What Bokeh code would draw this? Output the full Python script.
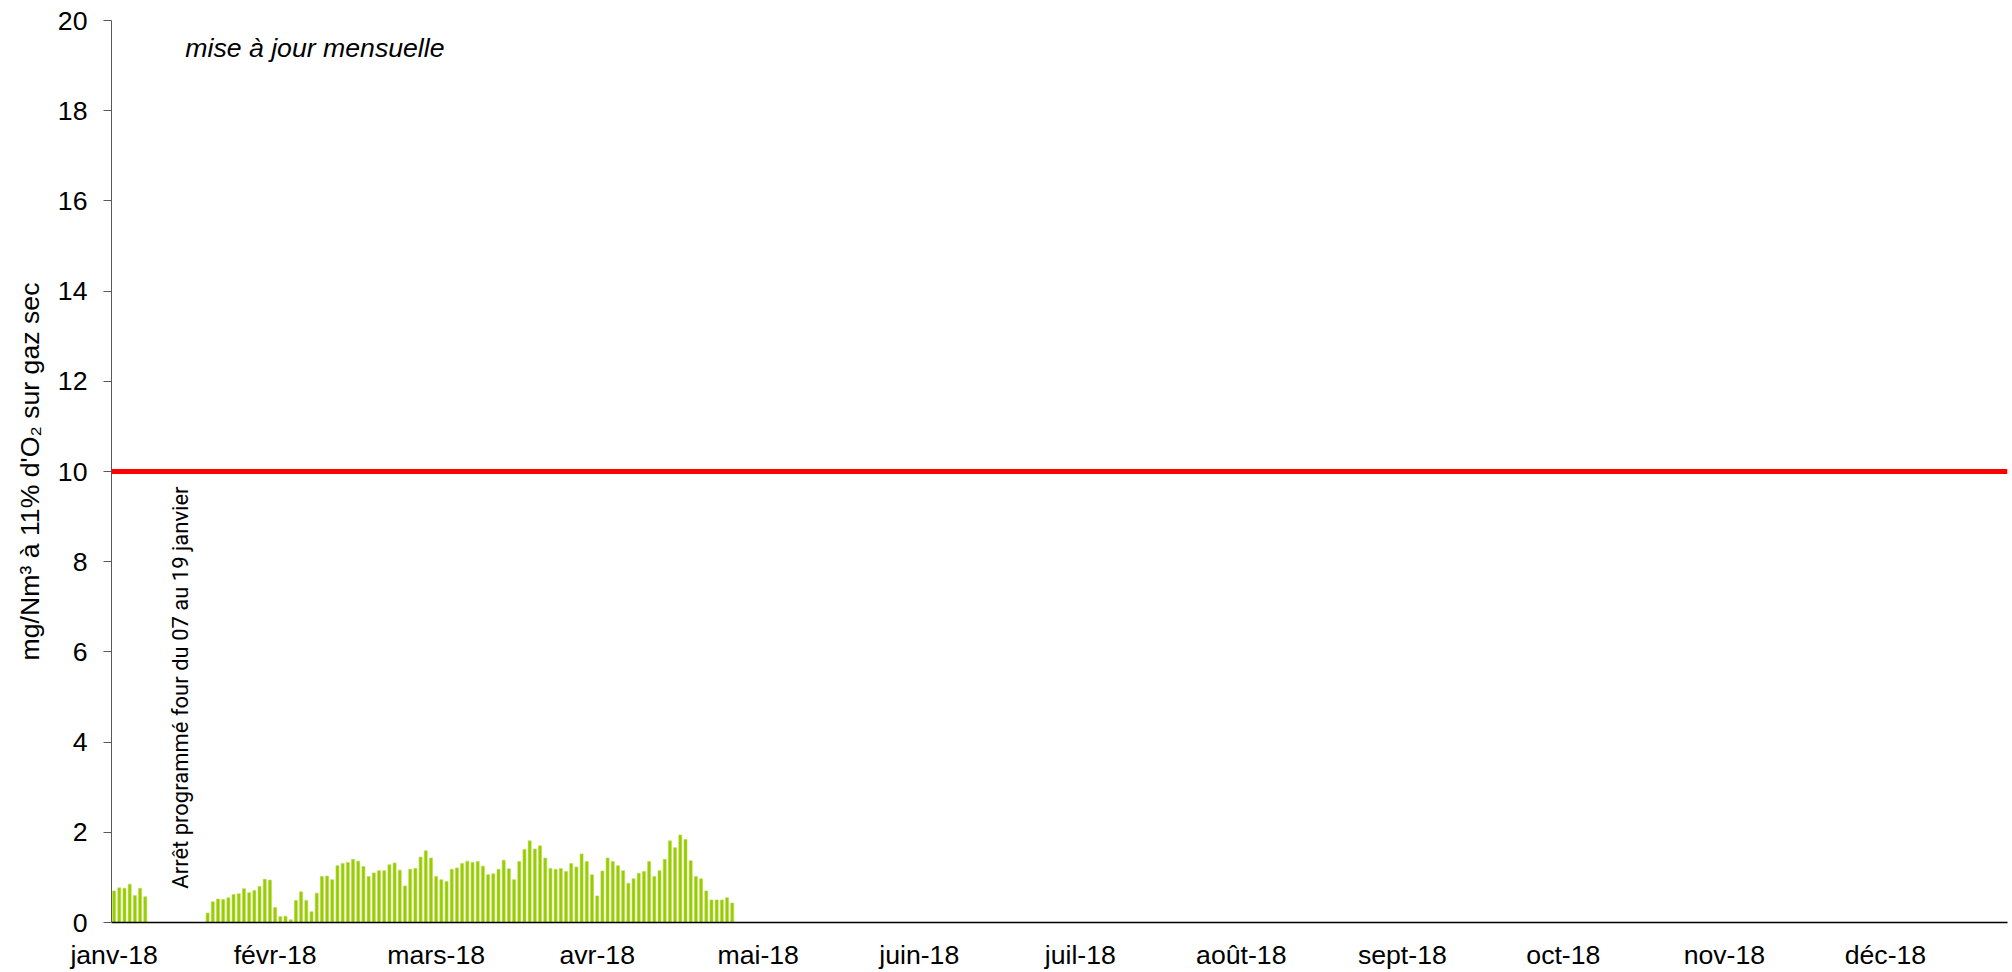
import pandas as pd
from bokeh.plotting import figure
from bokeh.models import Range1d, FixedTicker, Span, Label, ColumnDataSource
from bokeh.embed import file_html
from bokeh.resources import INLINE

# ---- data ----
year_start = "2018-01-01"
n_days = 365
label_every = 31
month_labels = ["janv-18", "févr-18", "mars-18", "avr-18", "mai-18", "juin-18",
                "juil-18", "août-18", "sept-18", "oct-18", "nov-18", "déc-18"]

start_1 = "2018-01-01"
values_1 = [0.70, 0.77, 0.76, 0.85, 0.60, 0.76, 0.57]

start_2 = "2018-01-19"
values_2 = [0.21, 0.46, 0.52, 0.51, 0.55, 0.62, 0.64, 0.75, 0.66, 0.71,
            0.80, 0.96, 0.94, 0.33, 0.13, 0.14, 0.06, 0.49, 0.68, 0.49,
            0.24, 0.65, 1.02, 1.03, 0.95, 1.26, 1.31, 1.33, 1.40, 1.36,
            1.24, 1.02, 1.10, 1.15, 1.15, 1.28, 1.32, 1.16, 0.81, 1.18,
            1.20, 1.45, 1.59, 1.43, 1.02, 0.95, 0.91, 1.18, 1.21, 1.31,
            1.36, 1.33, 1.35, 1.25, 1.06, 1.08, 1.18, 1.38, 1.19, 0.95,
            1.35, 1.62, 1.81, 1.63, 1.70, 1.43, 1.20, 1.18, 1.20, 1.13,
            1.31, 1.23, 1.52, 1.35, 1.06, 0.59, 1.14, 1.43, 1.35, 1.26,
            1.15, 0.87, 0.97, 1.09, 1.13, 1.35, 1.02, 1.15, 1.40, 1.81,
            1.66, 1.94, 1.84, 1.37, 1.02, 0.97, 0.70, 0.50, 0.50, 0.50,
            0.55, 0.43]

limit_value = 10
y_ticks = [0, 2, 4, 6, 8, 10, 12, 14, 16, 18, 20]

y_title = "mg/Nm³ à 11% d'O₂ sur gaz sec"
note_text = "mise à jour mensuelle"
stop_text = "Arrêt programmé four du 07 au 19 janvier"
stop_date = "2018-01-15"

FONT = "Liberation Sans"
FS = "26.67px"

# ---- build ----
t0 = pd.Timestamp(year_start)
def day_index(start, n):
    return [(d - t0).days for d in pd.date_range(start, periods=n, freq="D")]

xs = day_index(start_1, len(values_1)) + day_index(start_2, len(values_2))
vs = values_1 + values_2
src = ColumnDataSource(dict(x=xs, v=vs))

p = figure(width=2008, height=972, output_backend="svg", toolbar_location=None,
           x_range=Range1d(-0.5, n_days - 0.5), y_range=Range1d(0, 20),
           min_border_left=111, min_border_top=20, min_border_right=1,
           min_border_bottom=50)
p.outline_line_color = None
p.grid.visible = False
p.background_fill_color = "white"

p.vbar(x="x", top="v", width=0.58, source=src, fill_color="#99CC00",
       line_color="#B5DB4C", line_width=0.6)

p.add_layout(Span(location=limit_value, dimension="width", line_color="#FF0000",
                  line_width=5))

# y axis
ya = p.yaxis[0]
ya.ticker = FixedTicker(ticks=y_ticks)
ya.major_label_text_font = FONT
ya.major_label_text_font_size = FS
ya.major_label_text_color = "black"
ya.major_tick_out = 8
ya.major_tick_in = 0
ya.minor_tick_out = 0
ya.minor_tick_in = 0
ya.major_label_standoff = 16
ya.axis_line_color = "#595959"
ya.major_tick_line_color = "#595959"
ya.axis_label = y_title
ya.axis_label_text_font = FONT
ya.axis_label_text_font_size = FS
ya.axis_label_text_font_style = "normal"
ya.axis_label_text_color = "black"
ya.axis_label_standoff = 10

# x axis
month_ticks = [i * label_every for i in range(len(month_labels))]
xa = p.xaxis[0]
xa.ticker = FixedTicker(ticks=month_ticks)
xa.major_label_overrides = {t: l for t, l in zip(month_ticks, month_labels)}
xa.major_label_text_font = FONT
xa.major_label_text_font_size = FS
xa.major_label_text_color = "black"
xa.major_tick_out = 0
xa.major_tick_in = 0
xa.minor_tick_out = 0
xa.minor_tick_in = 0
xa.major_label_standoff = 17
xa.axis_line_color = "black"
xa.axis_line_width = 1.5

# annotations
p.add_layout(Label(x=(pd.Timestamp(stop_date) - t0).days - 1.2, y=0.75, text=stop_text,
                   angle=1.5708, text_align="left", text_baseline="middle",
                   text_font="Roboto", text_font_size="22px",
                   text_color="black"))
p.add_layout(Label(x=13.7, y=19.4, text=note_text, text_align="left",
                   text_baseline="middle", text_font=FONT,
                   text_font_size=FS, text_font_style="italic",
                   text_color="black"))

open("out.html", "w").write(file_html(p, INLINE))
